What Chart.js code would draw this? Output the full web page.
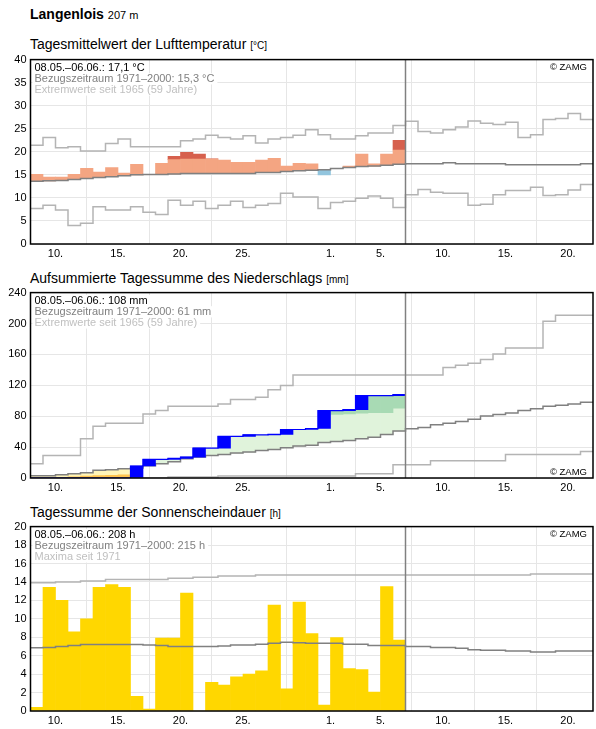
<!DOCTYPE html>
<html lang="de">
<head>
<meta charset="utf-8">
<title>Langenlois</title>
<script src="https://cdn.jsdelivr.net/npm/chart.js@4/dist/chart.umd.min.js"></script>
<style>
  body { margin: 0; background: #fff; }
  #page { position: relative; width: 596px; height: 729px; font-family: "Liberation Sans", Arial, sans-serif; color: #000; }
  .head, .ttl { position: absolute; left: 30px; font-size: 14px; line-height: 16px; white-space: nowrap; }
  .head b { font-weight: bold; }
  .small { font-size: 11px; line-height: 1; }
  .unit { font-size: 10px; line-height: 1; }
  canvas { position: absolute; left: 0; }
</style>
</head>
<body>
<div id="page">
  <div class="head" style="top:5.5px"><b>Langenlois</b> <span class="small">207 m</span></div>

  <div class="ttl" style="top:35.5px">Tagesmittelwert der Lufttemperatur <span class="unit">[°C]</span></div>
  <canvas id="tempChart" width="596" height="215" style="top:49px;width:596px;height:215px"></canvas>

  <div class="ttl" style="top:269.5px">Aufsummierte Tagessumme des Niederschlags <span class="unit">[mm]</span></div>
  <canvas id="precipChart" width="596" height="216" style="top:282px;width:596px;height:216px"></canvas>

  <div class="ttl" style="top:504px">Tagessumme der Sonnenscheindauer <span class="unit">[h]</span></div>
  <canvas id="sunChart" width="596" height="215" style="top:516px;width:596px;height:215px"></canvas>
</div>

<script>
// =========================
// Daten
// =========================

// Tage fortlaufend gezählt: 8 = 8. Mai, 31 = 31. Mai, 32 = 1. Juni ...
const obsDays = [8, 9, 10, 11, 12, 13, 14, 15, 16, 17, 18, 19, 20, 21, 22, 23, 24, 25, 26, 27,
  28, 29, 30, 31, 32, 33, 34, 35, 36, 37];
const climDays = [8, 9, 10, 11, 12, 13, 14, 15, 16, 17, 18, 19, 20, 21, 22, 23, 24, 25, 26, 27,
  28, 29, 30, 31, 32, 33, 34, 35, 36, 37, 38, 39, 40, 41, 42, 43, 44, 45, 46, 47,
  48, 49, 50, 51, 52];
const tickDays = [10, 15, 20, 25, 32, 36, 41, 46, 51];
const tickLabels = ['10.', '15.', '20.', '25.', '1.', '5.', '10.', '15.', '20.'];
const periodEnd = 38; // Ende 06.06.

// Lufttemperatur (°C)
const tempObs = [15.1, 14.5, 14.5, 15.1, 16.4, 15.6, 16.6, 15.4, 17.3, 15.1,
  17.5, 19.0, 19.9, 19.5, 18.5, 18.2, 17.7, 17.7, 18.2, 18.6,
  16.9, 17.5, 17.4, 15.0, 16.4, 16.9, 19.5, 17.4, 19.5, 22.5];
const tempMean = [13.6, 13.7, 13.8, 14.0, 14.2, 14.4, 14.6, 14.8, 15.0, 15.1,
  15.1, 15.2, 15.3, 15.3, 15.3, 15.3, 15.3, 15.3, 15.5, 15.5,
  15.7, 15.9, 16.0, 16.1, 16.4, 16.6, 16.8, 16.9, 17.1, 17.3,
  17.4, 17.4, 17.4, 17.6, 17.4, 17.4, 17.4, 17.4, 17.2, 17.2,
  17.2, 17.2, 17.2, 17.2, 17.4];
const tempMax = [21.4, 23.1, 20.9, 21.1, 20.2, 20.2, 21.8, 22.8, 21.1, 21.1,
  21.1, 21.1, 22.4, 22.8, 23.6, 23.1, 22.8, 23.5, 21.9, 22.8,
  23.1, 23.6, 24.8, 23.7, 22.8, 22.8, 23.5, 24.1, 24.1, 25.7,
  26.6, 24.4, 24.1, 24.8, 25.4, 26.7, 26.2, 25.9, 26.4, 23.1,
  23.7, 27.0, 27.2, 28.3, 27.0];
const tempMin = [7.7, 8.4, 7.4, 4.0, 4.5, 8.1, 7.4, 7.4, 8.1, 6.9,
  6.4, 9.5, 8.4, 9.3, 7.7, 8.4, 9.3, 7.9, 8.4, 8.8,
  11.0, 10.2, 10.2, 7.7, 9.0, 9.3, 9.9, 10.4, 9.9, 7.9,
  10.7, 11.8, 11.2, 11.0, 11.0, 8.4, 8.6, 10.7, 11.6, 11.6,
  12.3, 10.5, 10.7, 11.7, 12.9];
const warmStep = 3.1; // ab dieser Abweichung dunkelrot

// Niederschlag, aufsummiert (mm)
const precipObs = [0, 0, 0, 0, 0, 0, 0, 0, 15.5, 24.1,
  24.1, 25.4, 27.1, 38.7, 38.7, 53.8, 53.8, 55.9, 55.9, 56.5,
  62.8, 62.8, 64.1, 87.3, 87.3, 88.6, 106.7, 106.7, 106.7, 108.0];
const precipMean = [3.0, 3.0, 4.3, 5.6, 6.9, 9.9, 10.8, 12.0, 12.9, 15.9,
  18.5, 21.1, 24.9, 27.1, 29.2, 30.5, 32.3, 33.5, 35.7, 37.0,
  39.1, 41.3, 42.5, 46.0, 47.3, 48.6, 50.8, 52.9, 56.3, 61.0,
  63.7, 65.4, 68.8, 71.0, 73.1, 76.1, 80.4, 82.2, 84.3, 87.3,
  89.5, 92.9, 94.2, 95.9, 98.1];
const precipMax = [18.5, 29.2, 29.2, 29.2, 50.8, 67.1, 71.0, 71.0, 71.0, 83.0,
  87.3, 92.9, 92.9, 92.9, 92.9, 95.9, 101.5, 101.5, 104.5, 114.4,
  119.6, 133.3, 133.3, 133.3, 133.3, 133.3, 133.3, 133.3, 133.3, 133.3,
  133.3, 133.3, 133.3, 143.2, 146.0, 148.4, 153.5, 160.4, 168.2, 168.2,
  168.2, 203.0, 210.8, 210.8, 210.8];
const precipMin = [0, 0, 0, 0, 0, 0, 0, 0, 0, 0,
  0, 1.3, 1.3, 1.3, 1.3, 2.5, 2.5, 2.5, 2.5, 2.5,
  2.5, 2.5, 2.5, 2.5, 2.5, 2.5, 5.6, 5.6, 5.6, 17.2,
  17.2, 17.2, 22.4, 22.4, 22.4, 22.4, 22.4, 22.4, 30.5, 30.5,
  30.5, 30.5, 30.5, 30.5, 34.4];
// Grenzen der dunkleren Flächen, nur wo sichtbar
const precipWetBand = [null, null, null, null, null, null, null, null, null, null,
  null, null, null, null, null, null, null, null, null, null,
  null, null, null, null, 82.2, 83.0, 83.9, 84.7, 84.7, 90.3];
const precipDryBand = [0.5, 0.8, 1.0, 1.5, 2.5, 3.0, 3.5, 4.0, null, null,
  null, null, null, null, null, null, null, null, null, null,
  null, null, null, null, null, null, null, null, null, null];

// Sonnenscheindauer (h)
const sunObs = [0.4, 13.4, 12.0, 8.6, 10.0, 13.4, 13.7, 13.4, 1.6, 0.2,
  7.9, 7.9, 12.8, 0, 3.1, 2.8, 3.7, 4.0, 4.35, 11.5,
  2.4, 11.8, 8.4, 0.65, 7.95, 4.6, 4.5, 2.05, 13.5, 7.7];
const sunMean = [6.85, 6.9, 7.0, 7.1, 7.2, 7.2, 7.2, 7.2, 7.2, 7.15,
  7.1, 7.0, 7.0, 7.0, 7.0, 7.05, 7.15, 7.15, 7.25, 7.35,
  7.45, 7.4, 7.35, 7.35, 7.35, 7.25, 7.25, 7.1, 7.1, 7.1,
  7.0, 7.0, 6.9, 6.9, 6.8, 6.65, 6.6, 6.6, 6.5, 6.5,
  6.4, 6.4, 6.5, 6.5, 6.5];
const sunMax = [13.9, 13.9, 14.0, 14.0, 14.1, 14.1, 14.25, 14.25, 14.25, 14.25,
  14.25, 14.4, 14.4, 14.5, 14.5, 14.65, 14.65, 14.65, 14.75, 14.75,
  14.75, 14.75, 14.75, 14.75, 14.75, 14.75, 14.75, 14.75, 14.75, 14.75,
  14.75, 14.75, 14.75, 14.75, 14.75, 14.75, 14.75, 14.75, 14.75, 14.75,
  14.85, 14.85, 14.85, 14.85, 14.85];

// =========================
// Hilfsfunktionen
// =========================

const FONT = '"Liberation Sans", Arial, sans-serif';
Chart.defaults.font.family = FONT;
Chart.defaults.font.size = 11;
Chart.defaults.color = '#000';

const MEAN_COLOR = '#808080';
const EXT_COLOR = '#b4b4b4';
const GRID_COLOR = '#e6e6e6';

const climAt = (values, day) => values[climDays.indexOf(day)];

// Treppenlinie: jeder Wert gilt von Tag d bis d+1
function stepLine(days, values) {
  const points = [];
  days.forEach((d, i) => {
    points.push({ x: d, y: values[i] }, { x: d + 1, y: values[i] });
  });
  return points;
}

function dayBars(ranges) {
  return obsDays.map((d, i) => ({ x: d + 0.5, y: ranges[i] }));
}

function lineSet(points, color, order, width) {
  return {
    type: 'line', data: points, borderColor: color, borderWidth: width || 1.5,
    pointRadius: 0, fill: false, tension: 0, order: order
  };
}

function barSet(ranges, color, order) {
  return { data: dayBars(ranges), backgroundColor: color, order: order };
}

function baseOptions(yMax, yStep, padTop) {
  return {
    responsive: false,
    animation: false,
    events: [],
    layout: { padding: { top: padTop, right: 3, left: 0, bottom: 0 } },
    plugins: { legend: { display: false }, tooltip: { enabled: false } },
    datasets: { bar: { grouped: false, categoryPercentage: 1, barPercentage: 1, borderWidth: 0 } },
    scales: {
      x: {
        type: 'linear', min: 8, max: 53, offset: false,
        afterBuildTicks: axis => { axis.ticks = tickDays.map(v => ({ value: v })); },
        afterFit: axis => { axis.height = 20; },
        grid: { color: GRID_COLOR, drawTicks: false },
        border: { display: false },
        ticks: { autoSkip: false, maxRotation: 0, padding: 3, callback: (v, i) => tickLabels[i] }
      },
      y: {
        min: 0, max: yMax,
        afterFit: axis => { axis.width = 30.5; },
        grid: { color: GRID_COLOR, drawTicks: false },
        border: { display: false },
        ticks: { stepSize: yStep, padding: 4 }
      }
    }
  };
}

// Textblock, Copyright, Trennlinie und Rahmen
function overlay(lines, copyAtBottom) {
  const colors = ['#000', '#808080', '#c0c0c0'];
  return {
    id: 'zamgOverlay',
    afterDatasetsDraw(chart) {
      const { ctx, chartArea: a } = chart;
      ctx.save();

      const xc = chart.scales.x.getPixelForValue(periodEnd);
      ctx.strokeStyle = MEAN_COLOR;
      ctx.lineWidth = 1.5;
      ctx.beginPath();
      ctx.moveTo(xc, a.top);
      ctx.lineTo(xc, a.bottom);
      ctx.stroke();

      ctx.font = '11px ' + FONT;
      ctx.textBaseline = 'alphabetic';
      const ys = lines.map((t, i) => a.top + 11.4 + i * 11.2);
      ctx.fillStyle = '#fff';
      lines.forEach((t, i) => {
        ctx.fillRect(a.left + 2, ys[i] - 9, ctx.measureText(t).width + 5, 11.2);
      });
      lines.forEach((t, i) => {
        ctx.fillStyle = colors[i];
        ctx.fillText(t, a.left + 4, ys[i]);
      });

      ctx.font = '9.5px ' + FONT;
      ctx.textAlign = 'right';
      ctx.fillStyle = '#000';
      ctx.fillText('© ZAMG', a.right - 6, copyAtBottom ? a.bottom - 3 : a.top + 10.5);

      ctx.strokeStyle = '#000';
      ctx.lineWidth = 1.5;
      ctx.strokeRect(a.left, a.top, a.right - a.left, a.bottom - a.top);
      ctx.restore();
    }
  };
}

// =========================
// Lufttemperatur
// =========================

const tempWarm = obsDays.map((d, i) => {
  const m = climAt(tempMean, d);
  return tempObs[i] >= m ? [m, Math.min(tempObs[i], m + warmStep)] : null;
});
const tempHot = obsDays.map((d, i) => {
  const m = climAt(tempMean, d);
  return tempObs[i] > m + warmStep ? [m + warmStep, tempObs[i]] : null;
});
const tempCold = obsDays.map((d, i) => {
  const m = climAt(tempMean, d);
  return tempObs[i] < m ? [tempObs[i], m] : null;
});

new Chart(document.getElementById('tempChart'), {
  type: 'bar',
  data: {
    datasets: [
      lineSet(stepLine(climDays, tempMax), EXT_COLOR, 1),
      lineSet(stepLine(climDays, tempMin), EXT_COLOR, 1),
      lineSet(stepLine(climDays, tempMean), MEAN_COLOR, 0),
      barSet(tempWarm, '#f4a582', 2),
      barSet(tempHot, '#d6604d', 2),
      barSet(tempCold, '#92c5de', 2)
    ]
  },
  options: baseOptions(40, 5, 10),
  plugins: [overlay(['08.05.–06.06.: 17,1 °C', 'Bezugszeitraum 1971–2000: 15,3 °C',
    'Extremwerte seit 1965 (59 Jahre)'], false)]
});

// =========================
// Niederschlag
// =========================

const wetLight = obsDays.map((d, i) => {
  const m = climAt(precipMean, d), v = precipObs[i], b = precipWetBand[i];
  return v >= m ? [m, b !== null ? Math.min(v, b) : v] : null;
});
const wetDark = obsDays.map((d, i) => {
  const v = precipObs[i], b = precipWetBand[i];
  return b !== null && v > b ? [b, v] : null;
});
const dryLight = obsDays.map((d, i) => {
  const m = climAt(precipMean, d), v = precipObs[i], b = precipDryBand[i];
  return v < m ? [b !== null ? Math.max(v, b) : v, m] : null;
});
const dryDark = obsDays.map((d, i) => {
  const v = precipObs[i], b = precipDryBand[i];
  return b !== null && v < b ? [v, b] : null;
});
const rainDays = obsDays.map((d, i) => {
  const prev = i > 0 ? precipObs[i - 1] : 0;
  return precipObs[i] > prev ? [prev, precipObs[i]] : null;
});

new Chart(document.getElementById('precipChart'), {
  type: 'bar',
  data: {
    datasets: [
      barSet(rainDays, '#0000ff', 0),
      lineSet(stepLine(obsDays, precipObs), '#0000ff', 1, 1.2),
      lineSet(stepLine(climDays, precipMean), MEAN_COLOR, 2),
      lineSet(stepLine(climDays, precipMax), EXT_COLOR, 2),
      lineSet(stepLine(climDays, precipMin), EXT_COLOR, 2),
      barSet(wetDark, '#a8dab4', 3),
      barSet(dryDark, '#fec44f', 3),
      barSet(wetLight, '#e0f3db', 4),
      barSet(dryLight, '#fff5b8', 4)
    ]
  },
  options: baseOptions(240, 40, 10),
  plugins: [overlay(['08.05.–06.06.: 108 mm', 'Bezugszeitraum 1971–2000: 61 mm',
    'Extremwerte seit 1965 (59 Jahre)'], true)]
});

// =========================
// Sonnenscheindauer
// =========================

new Chart(document.getElementById('sunChart'), {
  type: 'bar',
  data: {
    datasets: [
      lineSet(stepLine(climDays, sunMean), MEAN_COLOR, 0),
      lineSet(stepLine(climDays, sunMax), EXT_COLOR, 0),
      barSet(sunObs, '#ffd700', 1)
    ]
  },
  options: baseOptions(20, 2, 10),
  plugins: [overlay(['08.05.–06.06.: 208 h', 'Bezugszeitraum 1971–2000: 215 h',
    'Maxima seit 1971'], false)]
});
</script>
</body>
</html>
